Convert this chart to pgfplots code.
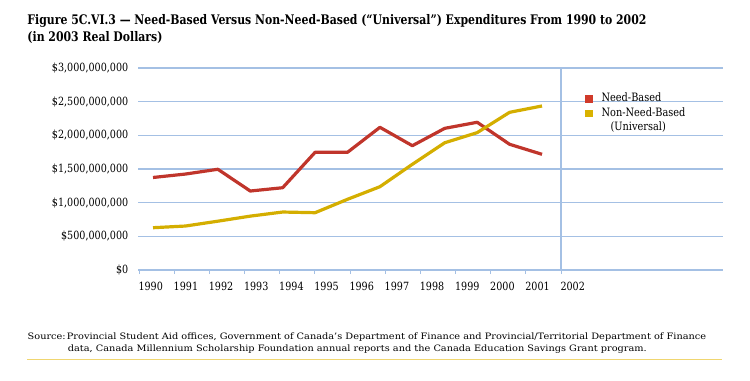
\documentclass[border=0pt]{standalone}
\usepackage{fontspec}
\setmainfont[FakeStretch=0.85]{DejaVu Serif}
\usepackage{pgfplots}
\pgfplotsset{compat=1.18}
\definecolor{needred}{HTML}{C0352B}
\definecolor{univyellow}{HTML}{D4AE00}
\definecolor{legred}{HTML}{D03A2A}
\definecolor{legyellow}{HTML}{D9B200}
\definecolor{gridblue}{HTML}{A4C0E4}
\definecolor{ruleyellow}{HTML}{F0D670}
\newlength\tw
\newlength\sw
\newcommand\titleA{Figure 5C.VI.3 — Need-Based Versus Non-Need-Based (“Universal”) Expenditures From 1990 to 2002}
\newcommand\titleB{(in 2003 Real Dollars)}
\newcommand\srcA{Provincial Student Aid offices, Government of Canada’s Department of Finance and Provincial/Territorial Department of Finance}
\newcommand\srcB{data, Canada Millennium Scholarship Foundation annual reports and the Canada Education Savings Grant program.}
\newcommand\tfont{\bfseries\fontsize{13.2bp}{16bp}\selectfont}
\newcommand\sfont{\fontsize{8.8bp}{12bp}\selectfont}
\begin{document}%
\settowidth\tw{\tfont\titleA}%
\pgfmathsetmacro\tratio{621.3/\tw}%
\settowidth\sw{\sfont\srcA}%
\pgfmathsetmacro\sratio{641.7/\sw}%
\begin{tikzpicture}[x=1bp,y=1bp]
\path[use as bounding box] (0,0) rectangle (750,380);
\node[anchor=base west, inner sep=0, font=\tfont] at (27.3,356) {\scalebox{\tratio}[1]{\titleA}};
\node[anchor=base west, inner sep=0, font=\tfont] at (27.3,339) {\scalebox{\tratio}[1]{\titleB}};
\node[anchor=base west, inner sep=0, font=\sfont] at (27.5,40.5) {\scalebox{\sratio}[1]{Source:}};
\node[anchor=base west, inner sep=0, font=\sfont] at (66.7,40.5) {\scalebox{\sratio}[1]{\srcA}};
\node[anchor=base west, inner sep=0, font=\sfont] at (67.7,28.3) {\scalebox{\sratio}[1]{\srcB}};
\draw[ruleyellow, line width=1.3bp] (27,20.5) -- (722,20.5);
\begin{axis}[
  at={(138bp,110bp)}, anchor=south west,
  width=585bp, height=202bp, scale only axis,
  xmin=1989.537, xmax=2007.583, ymin=0, ymax=3000000000,
  separate axis lines,
  x axis line style={gridblue, line width=1.2bp},
  y axis line style={draw=none},
  xtick={1989.568,1990.653,1991.738,1992.823,1993.908,1994.992,1996.077,1997.162,1998.247,1999.332,2000.416,2001.501,2002.586},
  xticklabels={1990,1991,1992,1993,1994,1995,1996,1997,1998,1999,2000,2001,2002},
  xtick pos=bottom, tick align=outside, major tick length=4bp,
  xtick style={gridblue, line width=1bp},
  ytick={0,500000000,1000000000,1500000000,2000000000,2500000000,3000000000},
  yticklabels={{\$0},{\$500,000,000},{\$1,000,000,000},{\$1,500,000,000},{\$2,000,000,000},{\$2,500,000,000},{\$3,000,000,000}},
  ytick style={draw=none}, ytick pos=left,
  scaled y ticks=false,
  ymajorgrids, grid style={gridblue, line width=1.2bp},
  tick label style={font=\fontsize{11.3bp}{13bp}\selectfont, inner sep=0pt},
  xticklabel style={anchor=north west, xshift=-0.7bp, yshift=-8bp},
  yticklabel style={anchor=east, xshift=-5.5bp},
  legend style={at={(0.7641,0.876)}, anchor=north west, draw=none, fill=none,
    font=\fontsize{11.5bp}{13bp}\selectfont, row sep=3.6bp, inner sep=0pt,
    nodes={inner sep=0pt, anchor=west, text height=8.5bp, text depth=2.5bp},
    /tikz/every odd column/.append style={column sep=9.5bp}},
  legend cell align=left,
  legend image code/.code={\fill[#1] (0bp,-3.2bp) rectangle (6.5bp,3.3bp);},
  clip=false,
]
\addplot[needred, line width=3.2bp, line join=round, no marks, forget plot] coordinates {
(1990,1374000000) (1991,1425000000) (1992,1496000000) (1993,1173000000)
(1994,1222000000) (1995,1748000000) (1996,1748000000) (1997,2119000000)
(1998,1846000000) (1999,2104000000) (2000,2194000000) (2001,1867000000)
(2002,1718000000)};
\addplot[univyellow, line width=3.2bp, line join=round, no marks, forget plot] coordinates {
(1990,628000000) (1991,653000000) (1992,725000000) (1993,800000000)
(1994,861000000) (1995,851000000) (1996,1050000000) (1997,1237000000)
(1998,1570000000) (1999,1890000000) (2000,2040000000) (2001,2342000000)
(2002,2436000000)};
\addlegendimage{legred}
\addlegendentry{Need-Based}
\addlegendimage{legyellow}
\addlegendentry{Non-Need-Based}
\addlegendimage{empty legend}
\addlegendentry{\hspace*{9bp}(Universal)}
\draw[gridblue, line width=1.2bp] (axis cs:2002.586,0) -- (axis cs:2002.586,3000000000);
\end{axis}
\end{tikzpicture}%
\end{document}
